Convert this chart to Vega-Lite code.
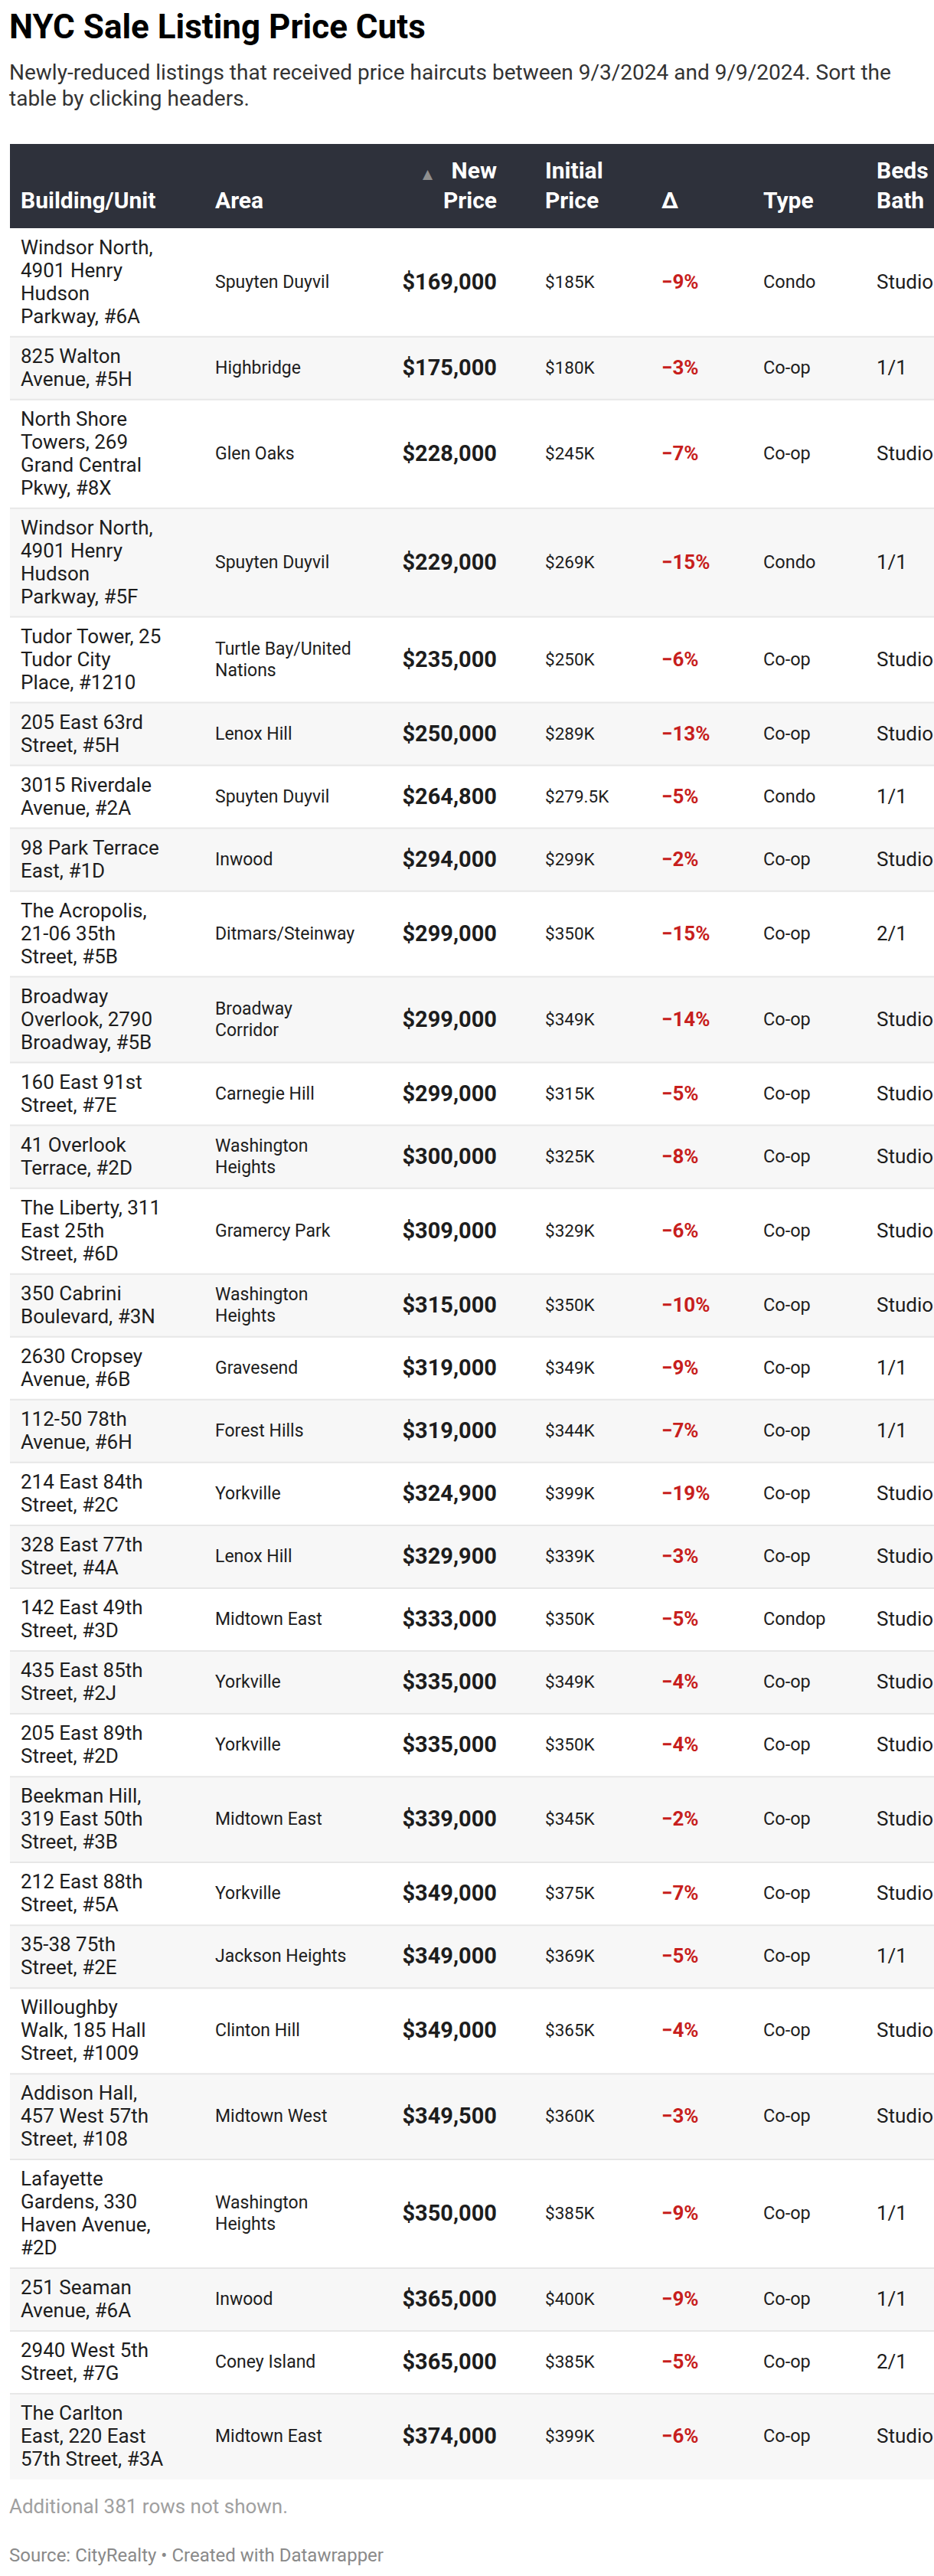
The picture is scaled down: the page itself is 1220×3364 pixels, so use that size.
{
  "$schema": "https://vega.github.io/schema/vega-lite/v6.json",
  "padding": {"left": 12, "top": 15, "right": 0, "bottom": 0},
  "background": "#ffffff",
  "title": {
    "text": "NYC Sale Listing Price Cuts",
    "subtitle": ["Newly-reduced listings that received price haircuts between 9/3/2024 and 9/9/2024. Sort the", "table by clicking headers."],
    "anchor": "start",
    "font": "Roboto",
    "fontSize": 44,
    "fontWeight": "bold",
    "color": "#000000",
    "subtitleFont": "Roboto",
    "subtitleFontSize": 28,
    "subtitleColor": "#333333",
    "subtitleLineHeight": 34,
    "subtitlePadding": 23,
    "offset": 44
  },
  "config": {"view": {"stroke": null}, "font": "Roboto", "concat": {"spacing": 0}},
  "datasets": {
    "rows": [
      {"building": ["Windsor North,", "4901 Henry", "Hudson", "Parkway, #6A"], "area": "Spuyten Duyvil", "newPrice": 169000, "initial": 185000, "delta": -0.09, "type": "Condo", "beds": "Studio"},
      {"building": ["825 Walton", "Avenue, #5H"], "area": "Highbridge", "newPrice": 175000, "initial": 180000, "delta": -0.03, "type": "Co-op", "beds": "1/1"},
      {"building": ["North Shore", "Towers, 269", "Grand Central", "Pkwy, #8X"], "area": "Glen Oaks", "newPrice": 228000, "initial": 245000, "delta": -0.07, "type": "Co-op", "beds": "Studio"},
      {"building": ["Windsor North,", "4901 Henry", "Hudson", "Parkway, #5F"], "area": "Spuyten Duyvil", "newPrice": 229000, "initial": 269000, "delta": -0.15, "type": "Condo", "beds": "1/1"},
      {"building": ["Tudor Tower, 25", "Tudor City", "Place, #1210"], "area": ["Turtle Bay/United", "Nations"], "newPrice": 235000, "initial": 250000, "delta": -0.06, "type": "Co-op", "beds": "Studio"},
      {"building": ["205 East 63rd", "Street, #5H"], "area": "Lenox Hill", "newPrice": 250000, "initial": 289000, "delta": -0.13, "type": "Co-op", "beds": "Studio"},
      {"building": ["3015 Riverdale", "Avenue, #2A"], "area": "Spuyten Duyvil", "newPrice": 264800, "initial": 279500, "delta": -0.05, "type": "Condo", "beds": "1/1"},
      {"building": ["98 Park Terrace", "East, #1D"], "area": "Inwood", "newPrice": 294000, "initial": 299000, "delta": -0.02, "type": "Co-op", "beds": "Studio"},
      {"building": ["The Acropolis,", "21-06 35th", "Street, #5B"], "area": "Ditmars/Steinway", "newPrice": 299000, "initial": 350000, "delta": -0.15, "type": "Co-op", "beds": "2/1"},
      {"building": ["Broadway", "Overlook, 2790", "Broadway, #5B"], "area": ["Broadway", "Corridor"], "newPrice": 299000, "initial": 349000, "delta": -0.14, "type": "Co-op", "beds": "Studio"},
      {"building": ["160 East 91st", "Street, #7E"], "area": "Carnegie Hill", "newPrice": 299000, "initial": 315000, "delta": -0.05, "type": "Co-op", "beds": "Studio"},
      {"building": ["41 Overlook", "Terrace, #2D"], "area": ["Washington", "Heights"], "newPrice": 300000, "initial": 325000, "delta": -0.08, "type": "Co-op", "beds": "Studio"},
      {"building": ["The Liberty, 311", "East 25th", "Street, #6D"], "area": "Gramercy Park", "newPrice": 309000, "initial": 329000, "delta": -0.06, "type": "Co-op", "beds": "Studio"},
      {"building": ["350 Cabrini", "Boulevard, #3N"], "area": ["Washington", "Heights"], "newPrice": 315000, "initial": 350000, "delta": -0.10, "type": "Co-op", "beds": "Studio"},
      {"building": ["2630 Cropsey", "Avenue, #6B"], "area": "Gravesend", "newPrice": 319000, "initial": 349000, "delta": -0.09, "type": "Co-op", "beds": "1/1"},
      {"building": ["112-50 78th", "Avenue, #6H"], "area": "Forest Hills", "newPrice": 319000, "initial": 344000, "delta": -0.07, "type": "Co-op", "beds": "1/1"},
      {"building": ["214 East 84th", "Street, #2C"], "area": "Yorkville", "newPrice": 324900, "initial": 399000, "delta": -0.19, "type": "Co-op", "beds": "Studio"},
      {"building": ["328 East 77th", "Street, #4A"], "area": "Lenox Hill", "newPrice": 329900, "initial": 339000, "delta": -0.03, "type": "Co-op", "beds": "Studio"},
      {"building": ["142 East 49th", "Street, #3D"], "area": "Midtown East", "newPrice": 333000, "initial": 350000, "delta": -0.05, "type": "Condop", "beds": "Studio"},
      {"building": ["435 East 85th", "Street, #2J"], "area": "Yorkville", "newPrice": 335000, "initial": 349000, "delta": -0.04, "type": "Co-op", "beds": "Studio"},
      {"building": ["205 East 89th", "Street, #2D"], "area": "Yorkville", "newPrice": 335000, "initial": 350000, "delta": -0.04, "type": "Co-op", "beds": "Studio"},
      {"building": ["Beekman Hill,", "319 East 50th", "Street, #3B"], "area": "Midtown East", "newPrice": 339000, "initial": 345000, "delta": -0.02, "type": "Co-op", "beds": "Studio"},
      {"building": ["212 East 88th", "Street, #5A"], "area": "Yorkville", "newPrice": 349000, "initial": 375000, "delta": -0.07, "type": "Co-op", "beds": "Studio"},
      {"building": ["35-38 75th", "Street, #2E"], "area": "Jackson Heights", "newPrice": 349000, "initial": 369000, "delta": -0.05, "type": "Co-op", "beds": "1/1"},
      {"building": ["Willoughby", "Walk, 185 Hall", "Street, #1009"], "area": "Clinton Hill", "newPrice": 349000, "initial": 365000, "delta": -0.04, "type": "Co-op", "beds": "Studio"},
      {"building": ["Addison Hall,", "457 West 57th", "Street, #108"], "area": "Midtown West", "newPrice": 349500, "initial": 360000, "delta": -0.03, "type": "Co-op", "beds": "Studio"},
      {"building": ["Lafayette", "Gardens, 330", "Haven Avenue,", "#2D"], "area": ["Washington", "Heights"], "newPrice": 350000, "initial": 385000, "delta": -0.09, "type": "Co-op", "beds": "1/1"},
      {"building": ["251 Seaman", "Avenue, #6A"], "area": "Inwood", "newPrice": 365000, "initial": 400000, "delta": -0.09, "type": "Co-op", "beds": "1/1"},
      {"building": ["2940 West 5th", "Street, #7G"], "area": "Coney Island", "newPrice": 365000, "initial": 385000, "delta": -0.05, "type": "Co-op", "beds": "2/1"},
      {"building": ["The Carlton", "East, 220 East", "57th Street, #3A"], "area": "Midtown East", "newPrice": 374000, "initial": 399000, "delta": -0.06, "type": "Co-op", "beds": "Studio"}
    ]
  },
  "vconcat": [
    {
      "width": 1208,
      "height": 3050,
      "title": {
        "text": "Additional 381 rows not shown.",
        "subtitle": "Source: CityRealty • Created with Datawrapper",
        "orient": "bottom",
        "anchor": "start",
        "font": "Roboto",
        "fontSize": 26,
        "fontWeight": "normal",
        "color": "#a0a0a0",
        "subtitleFont": "Roboto",
        "subtitleFontSize": 24,
        "subtitleColor": "#8a8a8a",
        "subtitlePadding": 39,
        "offset": 23
      },
      "data": {"name": "rows"},
      "transform": [
        {"calculate": "length(datum.building)", "as": "lines"},
        {"calculate": "datum.lines + 0.746", "as": "h"},
        {"window": [{"op": "sum", "field": "h", "as": "yEnd"}, {"op": "row_number", "as": "idx"}], "frame": [null, 0]},
        {"calculate": "datum.yEnd - datum.h", "as": "yStart"},
        {"calculate": "datum.yEnd - datum.h / 2", "as": "yMid"},
        {"calculate": "datum.yMid - (datum.lines - 1) / 2 * 1.004", "as": "yB"},
        {"calculate": "isArray(datum.area) ? length(datum.area) : 1", "as": "aLines"},
        {"calculate": "datum.yMid - (datum.aLines - 1) / 2 * 0.937", "as": "yA"},
        {"calculate": "'$' + datum.initial / 1000 + 'K'", "as": "initLabel"}
      ],
      "layer": [
        {
          "mark": {"type": "rect"},
          "encoding": {
            "y": {"field": "yStart", "type": "quantitative", "scale": {"domain": [-3.68, 98.38], "reverse": true, "zero": false, "nice": false}, "axis": null},
            "y2": {"field": "yEnd"},
            "fill": {"condition": {"test": "datum.idx % 2 === 0", "value": "#f7f7f7"}, "value": "#ffffff"}
          }
        },
        {
          "transform": [{"filter": "datum.idx < 30"}],
          "mark": {"type": "rule", "color": "#e7e7e7", "strokeWidth": 2},
          "encoding": {"y": {"field": "yEnd", "type": "quantitative"}}
        },
        {
          "data": {"values": [{}]},
          "mark": {"type": "rect", "color": "#2e313b"},
          "encoding": {"y": {"datum": -3.68}, "y2": {"datum": 0}}
        },
        {
          "data": {"values": [
            {"label": ["", "Building/Unit"], "col": 0},
            {"label": ["", "Area"], "col": 1},
            {"label": ["Initial", "Price"], "col": 3},
            {"label": ["", "Δ"], "col": 4},
            {"label": ["", "Type"], "col": 5},
            {"label": ["Beds", "Bath"], "col": 6}
          ]},
          "mark": {"type": "text", "align": "left", "baseline": "alphabetic", "fontSize": 30, "fontWeight": "bold", "color": "#ffffff", "lineHeight": 39, "clip": true},
          "encoding": {
            "x": {"field": "col", "type": "quantitative", "scale": {"domain": [0, 1, 2, 3, 4, 5, 6], "range": [14, 268, 636, 699, 851, 984, 1132], "zero": false, "nice": false}, "axis": null},
            "y": {"datum": -2.174},
            "text": {"field": "label", "type": "nominal"}
          }
        },
        {
          "data": {"values": [{"label": ["New", "Price"]}]},
          "mark": {"type": "text", "align": "right", "baseline": "alphabetic", "fontSize": 30, "fontWeight": "bold", "color": "#ffffff", "lineHeight": 39},
          "encoding": {
            "x": {"datum": 2},
            "y": {"datum": -2.174},
            "text": {"field": "label", "type": "nominal"}
          }
        },
        {
          "data": {"values": [{"label": "▲"}]},
          "mark": {"type": "text", "align": "right", "baseline": "alphabetic", "fontSize": 17, "color": "#8f8f8f", "dx": -84, "font": "DejaVu Sans"},
          "encoding": {
            "x": {"datum": 2},
            "y": {"datum": -2.174},
            "text": {"field": "label", "type": "nominal"}
          }
        },
        {
          "mark": {"type": "text", "align": "left", "baseline": "middle", "fontSize": 26, "lineHeight": 30, "color": "#1d1d1d"},
          "encoding": {
            "x": {"datum": 0},
            "y": {"field": "yB", "type": "quantitative"},
            "text": {"field": "building", "type": "nominal"}
          }
        },
        {
          "mark": {"type": "text", "align": "left", "baseline": "middle", "fontSize": 23, "lineHeight": 28, "color": "#1d1d1d"},
          "encoding": {
            "x": {"datum": 1},
            "y": {"field": "yA", "type": "quantitative"},
            "text": {"field": "area", "type": "nominal"}
          }
        },
        {
          "mark": {"type": "text", "align": "right", "baseline": "middle", "fontSize": 29, "fontWeight": "bold", "color": "#1d1d1d"},
          "encoding": {
            "x": {"datum": 2},
            "y": {"field": "yMid", "type": "quantitative"},
            "text": {"field": "newPrice", "type": "quantitative", "format": "$,.0f"}
          }
        },
        {
          "mark": {"type": "text", "align": "left", "baseline": "middle", "fontSize": 22.5, "color": "#1d1d1d"},
          "encoding": {
            "x": {"datum": 3},
            "y": {"field": "yMid", "type": "quantitative"},
            "text": {"field": "initLabel", "type": "nominal"}
          }
        },
        {
          "mark": {"type": "text", "align": "left", "baseline": "middle", "fontSize": 26, "fontWeight": "bold", "color": "#c71e1d"},
          "encoding": {
            "x": {"datum": 4},
            "y": {"field": "yMid", "type": "quantitative"},
            "text": {"field": "delta", "type": "quantitative", "format": ".0%"}
          }
        },
        {
          "mark": {"type": "text", "align": "left", "baseline": "middle", "fontSize": 23.5, "color": "#1d1d1d"},
          "encoding": {
            "x": {"datum": 5},
            "y": {"field": "yMid", "type": "quantitative"},
            "text": {"field": "type", "type": "nominal"}
          }
        },
        {
          "mark": {"type": "text", "align": "left", "baseline": "middle", "fontSize": 26, "color": "#1d1d1d", "clip": true},
          "encoding": {
            "x": {"datum": 6},
            "y": {"field": "yMid", "type": "quantitative"},
            "text": {"field": "beds", "type": "nominal"}
          }
        }
      ]
    }
  ]
}
